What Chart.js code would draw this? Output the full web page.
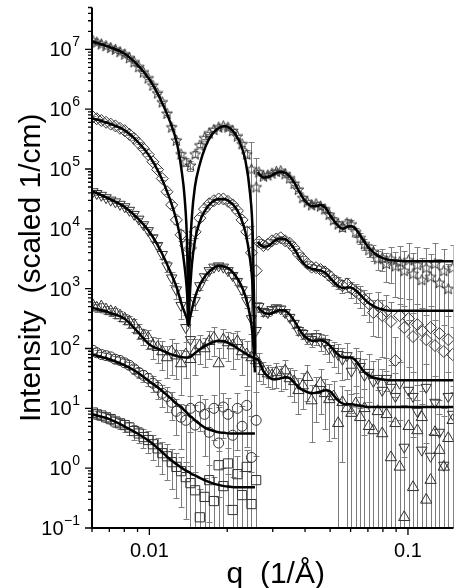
<!DOCTYPE html>
<html><head><meta charset="utf-8">
<script src="https://cdn.jsdelivr.net/npm/chart.js@4.4.0/dist/chart.umd.min.js"></script>
<style>html,body{margin:0;padding:0;background:#fff}canvas{display:block}</style>
</head><body>
<canvas id="c" width="461" height="588"></canvas>
<script>
// ---------- data (q in 1/Å, intensity in scaled 1/cm) ----------
const qLow = [0.00605,0.00626,0.00652,0.0068,0.00709,0.00739,0.0077,0.00803,0.00837,0.00873,0.0091,0.00949,0.0099,0.01032,0.01076,0.01122,0.0117,0.0122,0.01272,0.01326,0.01383,0.01442,0.01503,0.01567,0.01634,0.01704,0.01777,0.01853,0.01932,0.02014,0.021,0.0219,0.02283,0.0238,0.02482,0.02588];
const qHigh = [0.0265,0.0276,0.0287,0.0298,0.031,0.0322,0.0335,0.0349,0.0363,0.0377,0.0392,0.0408,0.0424,0.0441,0.0459,0.0477,0.0496,0.0516,0.0537,0.0558,0.0581,0.0604,0.0628,0.0653,0.0679,0.0706,0.0735,0.0764,0.0795,0.0826,0.0859,0.0894,0.0929,0.0967,0.1005,0.1046,0.1087,0.1131,0.1176,0.1223,0.1272,0.1323,0.1376,0.1431,0.1488];

const starsLow = [1.41e7,1.32e7,1.23e7,1.15e7,1.07e7,1.0e7,9.12e6,8.32e6,7.24e6,6.17e6,5.13e6,4.17e6,3.31e6,2.51e6,1.86e6,1.32e6,8.51e5,5.01e5,3.02e5,1.78e5,1.32e5,1.15e5,1.78e5,2.51e5,3.31e5,3.98e5,4.57e5,5.01e5,5.25e5,5.01e5,4.37e5,3.55e5,2.63e5,1.78e5,1.0e5,5.01e4];
const starsHigh = [8.91e4,7.59e4,7.94e4,8.51e4,9.12e4,9.33e4,8.32e4,7.08e4,5.75e4,4.57e4,3.31e4,2.82e4,2.51e4,2.63e4,2.4e4,2.14e4,1.74e4,1.41e4,1.2e4,1.07e4,1.26e4,1.2e4,8.91e3,7.08e3,5.62e3,4.47e3,4.17e3,3.16e3,3.31e3,2.63e3,3.16e3,2.4e3,2.82e3,2.0e3,3.02e3,1.78e3,2.51e3,1.41e3,2.24e3,1.58e3,2.63e3,1.26e3,2.0e3,1.0e3,2.24e3];
const starsErrLow = [0.03,0.03,0.03,0.03,0.03,0.03,0.03,0.03,0.03,0.03,0.03,0.03,0.04,0.04,0.05,0.05,0.06,0.07,0.08,0.1,0.15,0.18,0.12,0.08,0.06,0.05,0.04,0.04,0.04,0.04,0.05,0.06,0.08,0.15,1.8,2.0];
const starsErrHigh = [0.08,0.06,0.06,0.05,0.05,0.05,0.05,0.05,0.06,0.06,0.07,0.08,0.08,0.08,0.09,0.1,0.1,0.12,0.12,0.14,0.14,0.16,0.18,0.2,0.22,0.25,0.3,0.35,0.4,0.5,0.6,0.7,0.8,1.1,0.9,1.2,1.0,1.3,1.1,1.4,1.2,1.5,1.3,1.6,1.4];

const diamLow = [7.41e5,6.92e5,6.46e5,6.03e5,5.62e5,5.25e5,4.79e5,4.37e5,3.8e5,3.24e5,2.69e5,2.19e5,1.74e5,1.32e5,9.77e4,6.92e4,4.17e4,2.51e4,1.41e4,7.94e3,5.25e3,4.79e3,8.91e3,1.51e4,2.14e4,2.63e4,2.95e4,3.16e4,3.16e4,2.88e4,2.51e4,2.0e4,1.41e4,8.91e3,3.98e3,2.0e3];
const diamHigh = [6.03e3,5.25e3,5.5e3,6.31e3,6.76e3,7.08e3,6.31e3,5.75e3,4.79e3,3.8e3,3.16e3,2.63e3,2.29e3,2.24e3,2.09e3,1.91e3,1.66e3,1.41e3,1.26e3,1.12e3,1.2e3,1.0e3,891,794,661,562,398,525,355,417,282,63.1,355,224,316,158,251,200,141,224,112,178,89.1,141,79.4];
const diamErrLow = [0.04,0.04,0.04,0.04,0.04,0.04,0.04,0.04,0.04,0.04,0.04,0.04,0.05,0.05,0.06,0.07,0.08,0.1,0.14,0.2,0.3,0.35,0.2,0.12,0.08,0.06,0.05,0.05,0.05,0.06,0.07,0.08,0.12,0.2,1.8,2.0];
const diamErrHigh = [0.1,0.08,0.07,0.07,0.07,0.07,0.07,0.08,0.08,0.09,0.1,0.11,0.12,0.13,0.14,0.15,0.17,0.2,0.22,0.25,0.28,0.3,0.35,0.4,0.45,0.5,0.6,0.7,0.8,0.9,1.1,1.5,1.0,1.3,1.1,1.5,1.2,1.4,1.6,1.3,1.7,1.4,1.8,1.5,1.9];

const downLow = [4.17e4,3.89e4,3.63e4,3.31e4,3.02e4,2.82e4,2.57e4,2.34e4,2.04e4,1.74e4,1.45e4,1.17e4,9.33e3,7.08e3,5.25e3,3.72e3,2.4e3,1.51e3,955,525,224,141,631,1.12e3,1.58e3,2.0e3,2.29e3,2.4e3,2.29e3,2.0e3,1.66e3,1.32e3,955,631,316,200];
const downHigh = [501,417,398,447,479,457,398,331,263,200,178,151,141,158,132,126,100,89.1,79.4,66.1,75.9,41.7,60.3,50.1,35.5,39.8,28.2,31.6,20.0,31.6,22.4,15.8,26.3,2.24,20.0,15.8,8.91,2.0,22.4,1.58,12.6,3.98,1.12,15.8,7.94];
const downErrLow = [0.05,0.05,0.05,0.05,0.05,0.05,0.05,0.05,0.05,0.05,0.06,0.07,0.08,0.1,0.12,0.15,0.2,0.25,0.3,0.4,0.6,1.5,0.3,0.15,0.1,0.08,0.07,0.07,0.07,0.08,0.1,0.12,0.15,0.25,1.5,2.0];
const downErrHigh = [0.2,0.15,0.12,0.12,0.12,0.12,0.13,0.14,0.15,0.17,0.2,0.22,0.25,0.28,0.3,0.35,0.4,0.45,0.5,0.55,0.6,0.8,0.7,0.8,0.9,1.0,1.2,1.1,1.3,1.2,1.4,1.5,1.3,4.0,1.5,1.6,1.8,5.0,1.5,6.0,1.8,2.5,8.0,1.6,2.0];

const upLow = [525,479,501,447,417,398,355,316,282,251,200,166,151,112,105,89.1,70.8,89.1,75.9,56.2,79.4,66.1,89.1,112,100,132,151,56.2,141,126,112,132,89.1,79.4,70.8,63.1];
const upHigh = [56.2,41.7,38.0,35.5,39.8,35.5,42.7,31.6,28.2,20.0,24.0,33.1,13.5,20.0,26.3,17.8,14.1,15.8,5.62,12.6,10.0,8.32,12.0,7.08,10.0,5.01,4.27,8.91,3.80,7.94,1.51,5.62,1.05,0.151,5.01,0.479,4.27,7.08,0.295,0.631,3.98,2.0,1.05,3.16,6.31];
const upErrLow = [0.15,0.15,0.15,0.15,0.15,0.18,0.2,0.2,0.22,0.25,0.28,0.3,0.35,0.4,0.45,0.5,0.55,0.6,0.6,0.7,0.6,1.2,0.6,0.5,0.5,0.5,0.5,0.8,0.5,0.5,0.6,0.5,0.6,0.7,1.5,2.0];
const upErrHigh = [0.5,0.4,0.4,0.4,0.45,0.45,0.5,0.5,0.55,0.6,0.6,0.6,0.8,0.7,0.7,0.75,0.8,0.8,1.5,0.9,1.0,1.1,1.0,1.2,1.1,1.5,1.6,1.3,1.8,1.5,3.0,1.8,5.0,9.0,2.0,6.0,2.2,1.8,8.0,5.0,2.5,3.0,6.0,2.5,2.0];

const circLow = [93.3,85.1,79.4,75.9,72.4,66.1,63.1,57.5,52.5,45.7,39.8,35.5,31.6,26.3,22.4,17.8,15.8,12.6,8.91,7.08,6.31,10.0,5.25,10.5,7.94,3.98,10.0,2.63,10.5,7.94,3.55,10.0,5.01,11.2,1.51,6.31];
const circErrLow = [0.1,0.1,0.1,0.1,0.12,0.12,0.13,0.14,0.15,0.17,0.2,0.22,0.25,0.3,0.35,0.4,0.45,0.5,0.6,0.7,0.8,0.6,1.2,0.6,0.8,1.5,0.7,3.0,0.7,0.9,1.5,0.8,1.2,0.8,4.0,2.0];

const sqLow = [8.51,7.94,7.59,7.08,6.61,6.03,5.62,5.25,4.79,4.17,3.8,3.31,2.95,2.51,2.14,1.78,1.58,1.26,1.05,0.891,0.708,0.562,0.427,0.151,0.331,0.631,0.282,1.12,0.501,1.2,0.2,0.794,0.355,1.05,0.251,0.631];
const sqErrLow = [0.15,0.15,0.15,0.16,0.17,0.18,0.2,0.22,0.25,0.28,0.3,0.35,0.4,0.45,0.5,0.55,0.6,0.65,0.7,0.75,0.8,0.9,1.0,2.0,1.1,0.8,1.5,0.7,1.0,0.8,2.5,1.0,1.5,0.9,2.5,1.5];

// fitted model curves
const fitQLow = [0.006,0.007,0.008,0.009,0.010,0.011,0.012,0.0128,0.0133,0.0137,0.0140,0.01416,0.0143,0.0146,0.0150,0.0156,0.0165,0.0175,0.0185,0.0195,0.0205,0.0215,0.0225,0.0235,0.0245,0.0251,0.0256];
const fitQHigh = [0.0262,0.0276,0.029,0.0305,0.032,0.0335,0.035,0.0365,0.038,0.0395,0.041,0.0425,0.044,0.046,0.048,0.05,0.052,0.054,0.056,0.058,0.06,0.062,0.064,0.066,0.068,0.07,0.073,0.076,0.08,0.085,0.09,0.1,0.12,0.15];
const fitStarsLow = [1.35e7,1.1e7,8.51e6,5.5e6,3.16e6,1.51e6,6.31e5,2.63e5,1.0e5,3.16e4,5.01e3,282,2.51e3,1.58e4,5.01e4,1.12e5,2.4e5,3.8e5,4.79e5,5.25e5,4.79e5,3.8e5,2.63e5,1.41e5,3.98e4,7.94e3,100];
const fitStarsHigh = [8.91e4,7.24e4,7.41e4,8.32e4,8.91e4,8.71e4,7.41e4,5.75e4,4.17e4,3.16e4,2.63e4,2.4e4,2.4e4,2.51e4,2.24e4,1.7e4,1.32e4,1.1e4,1.0e4,1.07e4,1.12e4,1.05e4,8.91e3,7.24e3,6.03e3,5.01e3,4.17e3,3.63e3,3.24e3,3.02e3,2.95e3,2.88e3,2.88e3,2.88e3];
const fitDiamLow = [7.08e5,5.75e5,4.47e5,2.88e5,1.66e5,7.94e4,3.16e4,1.26e4,5.62e3,2.24e3,794,251,631,2.51e3,6.31e3,1.26e4,2.09e4,2.82e4,3.16e4,3.16e4,2.82e4,2.29e4,1.58e4,8.91e3,3.16e3,1.0e3,79.4];
const fitDiamHigh = [6.03e3,5.01e3,5.25e3,6.31e3,6.92e3,6.76e3,5.75e3,4.47e3,3.31e3,2.63e3,2.29e3,2.14e3,2.09e3,2.0e3,1.82e3,1.51e3,1.26e3,1.1e3,1.02e3,1.05e3,1.05e3,977,871,759,661,589,525,479,447,427,427,427,427,427];
const fitDownLow = [4.27e4,3.16e4,2.34e4,1.51e4,8.91e3,4.47e3,2.0e3,1.0e3,562,398,302,240,302,447,708,1.12e3,1.66e3,2.14e3,2.4e3,2.34e3,2.09e3,1.66e3,1.2e3,759,355,158,39.8];
const fitDownHigh = [501,398,380,407,437,427,363,282,209,166,145,135,135,138,129,110,91.2,77.6,70.8,70.8,70.8,66.1,56.2,46.8,39.8,36.3,33.1,31.6,30.2,29.5,29.5,29.5,29.5,29.5];
const fitUpLow = [479,398,316,191,117,95.5,81.3,74.1,72.4,70.8,70.8,70.8,72.4,75.9,83.2,95.5,112,126,135,132,120,107,93.3,83.2,74.1,70.8,67.6];
const fitUpHigh = [66.1,41.7,33.1,30.2,31.6,33.1,31.6,26.3,21.9,20.0,18.6,17.8,18.2,19.1,20.0,19.1,15.8,13.2,12.0,11.7,11.7,11.5,11.2,11.0,10.7,10.5,10.5,10.5,10.5,10.5,10.5,10.5,10.5,10.5];
const fitCircLow = [79.4,66.1,52.5,39.8,28.2,20.9,15.1,11.7,10.5,9.12,8.32,7.94,7.59,7.08,6.31,5.5,4.68,4.27,3.98,3.89,3.8,3.8,3.8,3.8,3.8,3.8,3.8];
const fitSqLow = [7.94,6.61,5.01,3.8,2.82,2.0,1.41,1.15,1.02,0.933,0.891,0.871,0.851,0.794,0.759,0.692,0.617,0.562,0.525,0.501,0.49,0.479,0.479,0.479,0.479,0.479,0.479];

const yTickExps = [-1,0,1,2,3,4,5,6,7];
const xTickLabels = [[0.01,'0.01'],[0.1,'0.1']];

// ---------- drawing ----------
const FONT = '"Liberation Sans", Arial, Helvetica, sans-serif';
const MK = '#333333';
const pts = (qs, vs) => qs.map((q, i) => ({x: q, y: vs[i]}));

function starImg() {
  const c = document.createElement('canvas'); c.width = 13; c.height = 13;
  const g = c.getContext('2d'); g.strokeStyle = MK; g.lineWidth = 1; g.beginPath();
  for (let k = 0; k < 10; k++) {
    const r = k % 2 ? 2.4 : 5.8, a = -Math.PI / 2 + k * Math.PI / 5;
    const x = 6.5 + r * Math.cos(a), y = 7 + r * Math.sin(a);
    k ? g.lineTo(x, y) : g.moveTo(x, y);
  }
  g.closePath(); g.stroke(); return c;
}

function scat(qs, vs, errs, style, radius, rot) {
  return {data: pts(qs, vs), errors: errs, showLine: false, pointStyle: style,
    pointRadius: radius, pointRotation: rot || 0, pointBorderColor: MK,
    pointBackgroundColor: 'rgba(0,0,0,0)', pointBorderWidth: 1, order: 2};
}
function fit(qs, vs) {
  return {data: pts(qs, vs), showLine: true, borderColor: '#000', borderWidth: 2.5,
    pointRadius: 0, cubicInterpolationMode: 'monotone', fill: false, order: 0};
}

const datasets = [
  scat(qLow.concat(qHigh), starsLow.concat(starsHigh), starsErrLow.concat(starsErrHigh), starImg(), 6),
  scat(qLow.concat(qHigh), diamLow.concat(diamHigh), diamErrLow.concat(diamErrHigh), 'rectRot', 6),
  scat(qLow.concat(qHigh), downLow.concat(downHigh), downErrLow.concat(downErrHigh), 'triangle', 6, 180),
  scat(qLow.concat(qHigh), upLow.concat(upHigh), upErrLow.concat(upErrHigh), 'triangle', 6.5),
  scat(qLow, circLow, circErrLow, 'circle', 5),
  scat(qLow, sqLow, sqErrLow, 'rect', 6.5),
  fit(fitQLow, fitStarsLow), fit(fitQHigh, fitStarsHigh),
  fit(fitQLow, fitDiamLow), fit(fitQHigh, fitDiamHigh),
  fit(fitQLow, fitDownLow), fit(fitQHigh, fitDownHigh),
  fit(fitQLow.concat(fitQHigh), fitUpLow.concat(fitUpHigh)),
  fit(fitQLow, fitCircLow), fit(fitQLow, fitSqLow)
];

const errPlugin = {
  id: 'errbars',
  beforeDatasetsDraw(chart) {
    const {ctx, chartArea: ca} = chart, xs = chart.scales.x, ys = chart.scales.y;
    ctx.save();
    ctx.beginPath(); ctx.rect(ca.left, ca.top, ca.right - ca.left, ca.bottom - ca.top); ctx.clip();
    ctx.strokeStyle = '#7c7c7c'; ctx.lineWidth = 1;
    chart.data.datasets.forEach(ds => {
      if (!ds.errors) return;
      ds.data.forEach((p, i) => {
        const e = ds.errors[i];
        const px = Math.round(xs.getPixelForValue(p.x)) + 0.5;
        const hi = p.y * (1 + e), lo = p.y * (1 - e);
        const yh = Math.round(ys.getPixelForValue(hi)) + 0.5;
        const hasLo = lo > ys.min;
        const yl = hasLo ? Math.round(ys.getPixelForValue(lo)) + 0.5 : ca.bottom + 2;
        ctx.beginPath();
        ctx.moveTo(px, yh); ctx.lineTo(px, yl);
        ctx.moveTo(px - 3, yh); ctx.lineTo(px + 3, yh);
        if (hasLo) { ctx.moveTo(px - 3, yl); ctx.lineTo(px + 3, yl); }
        ctx.stroke();
      });
    });
    ctx.restore();
  }
};

const axesPlugin = {
  id: 'axesdraw',
  afterDraw(chart) {
    const {ctx, chartArea: ca} = chart, xs = chart.scales.x, ys = chart.scales.y;
    ctx.save();
    ctx.strokeStyle = '#000'; ctx.fillStyle = '#000';
    ctx.lineWidth = 2;
    ctx.beginPath(); ctx.moveTo(ca.left, ca.top); ctx.lineTo(ca.left, ca.bottom); ctx.lineTo(ca.right, ca.bottom); ctx.stroke();
    ctx.lineWidth = 1.3;
    ctx.beginPath();
    for (let d = -1; d <= 7; d++) for (let k = 1; k <= 9; k++) {
      const v = k * Math.pow(10, d);
      if (v < ys.min || v > ys.max) continue;
      const y = ys.getPixelForValue(v), len = k === 1 ? 7 : 4;
      ctx.moveTo(ca.left - len, y); ctx.lineTo(ca.left, y);
    }
    for (let d = -3; d <= -1; d++) for (let k = 1; k <= 9; k++) {
      const v = k * Math.pow(10, d);
      if (v < xs.min || v > xs.max) continue;
      const x = xs.getPixelForValue(v), len = k === 1 ? 7 : 4;
      ctx.moveTo(x, ca.bottom); ctx.lineTo(x, ca.bottom + len);
    }
    ctx.stroke();
    // y tick labels: 10^n
    yTickExps.forEach(n => {
      const y = ys.getPixelForValue(Math.pow(10, n));
      const ex = String(n).replace('-', '\u2212');
      ctx.font = '14px ' + FONT;
      const we = ctx.measureText(ex).width;
      const right = 80;
      ctx.textBaseline = 'alphabetic';
      ctx.textAlign = 'left';
      ctx.fillText(ex, right - we, y - 3);
      ctx.font = '20px ' + FONT;
      ctx.textAlign = 'right';
      ctx.fillText('10', right - we - 0.5, y + 7);
    });
    // x tick labels
    ctx.font = '20px ' + FONT; ctx.textAlign = 'center'; ctx.textBaseline = 'alphabetic';
    xTickLabels.forEach(([v, s]) => ctx.fillText(s, xs.getPixelForValue(v), 557));
    // titles
    ctx.font = '30px ' + FONT;
    ctx.fillText('q  (1/\u00C5)', (ca.left + ca.right) / 2 + 3, 583);
    ctx.save();
    ctx.translate(40, (ca.top + ca.bottom) / 2);
    ctx.rotate(-Math.PI / 2);
    ctx.textAlign = 'center'; ctx.textBaseline = 'alphabetic';
    ctx.fillText('Intensity  (scaled 1/cm)', 0, 0);
    ctx.restore();
    ctx.restore();
  }
};

new Chart(document.getElementById('c').getContext('2d'), {
  type: 'line',
  data: {datasets},
  options: {
    responsive: false, animation: false, devicePixelRatio: 1, events: [],
    layout: {padding: {left: 92, right: 0, top: 6, bottom: 60}},
    plugins: {legend: {display: false}, tooltip: {enabled: false}, title: {display: false}},
    scales: {
      x: {type: 'logarithmic', min: 0.006, max: 0.15,
          grid: {display: false, drawTicks: false}, ticks: {display: false}, border: {display: false}},
      y: {type: 'logarithmic', min: 0.1, max: 5e7,
          grid: {display: false, drawTicks: false}, ticks: {display: false}, border: {display: false}}
    }
  },
  plugins: [errPlugin, axesPlugin]
});
</script>
</body></html>
